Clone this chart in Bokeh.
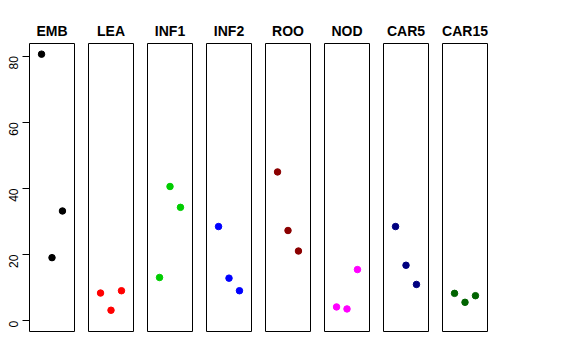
import math
from bokeh.plotting import figure
from bokeh.layouts import row
from bokeh.models import Range1d, FixedTicker, ColumnDataSource
from bokeh.embed import file_html
from bokeh.resources import INLINE

categories = ["EMB", "LEA", "INF1", "INF2", "ROO", "NOD", "CAR5", "CAR15"]
colors = ["#000000", "#FF0000", "#00CD00", "#0000FF", "#8B0000", "#FF00FF", "#000080", "#006400"]
positions = [1, 2, 3]
EMB = [80.6, 19.1, 33.2]
LEA = [8.4, 3.2, 9.1]
INF1 = [13.1, 40.6, 34.3]
INF2 = [28.5, 12.9, 9.1]
ROO = [45.0, 27.3, 21.1]
NOD = [4.2, 3.6, 15.5]
CAR5 = [28.5, 16.8, 11.0]
CAR15 = [8.3, 5.6, 7.6]
series = [EMB, LEA, INF1, INF2, ROO, NOD, CAR5, CAR15]
y_ticks = [0, 20, 40, 60, 80]

ymax = max(max(s) for s in series)
pad = 0.04 * ymax
figs = []
for i, (cat, vals, col) in enumerate(zip(categories, series, colors)):
    first = i == 0
    p = figure(
        frame_width=45, frame_height=288,
        output_backend="svg", toolbar_location=None,
        x_range=Range1d(-0.15, 4.15), y_range=Range1d(0 - pad, ymax + pad),
        x_axis_location=None,
        y_axis_location="left" if first else None,
        min_border_left=29 if first else 7, min_border_right=7,
        min_border_top=43, min_border_bottom=10,
        title=cat,
    )
    p.grid.visible = False
    p.outline_line_color = "black"
    p.outline_line_width = 1
    p.background_fill_color = "white"
    p.border_fill_color = "white"
    p.title.align = "center"
    p.title.text_font = "Liberation Sans"
    p.title.text_font_style = "bold"
    p.title.text_font_size = "14px"
    p.title.text_color = "black"
    p.title.standoff = 10
    if first:
        ax = p.yaxis[0]
        ax.ticker = FixedTicker(ticks=y_ticks)
        ax.axis_line_color = None
        ax.major_tick_out = 7
        ax.major_tick_in = 0
        ax.minor_tick_line_color = None
        ax.major_tick_line_color = "black"
        ax.major_label_orientation = math.pi / 2
        ax.major_label_standoff = 9
        ax.major_label_text_font = "Liberation Sans"
        ax.major_label_text_font_size = "12px"
        ax.major_label_text_color = "black"
    src = ColumnDataSource(dict(x=positions, y=vals))
    p.scatter("x", "y", source=src, size=6.5, color=col, line_color=col)
    figs.append(p)

layout = row(*figs, spacing=0)
open("out.html", "w").write(file_html(layout, INLINE))
